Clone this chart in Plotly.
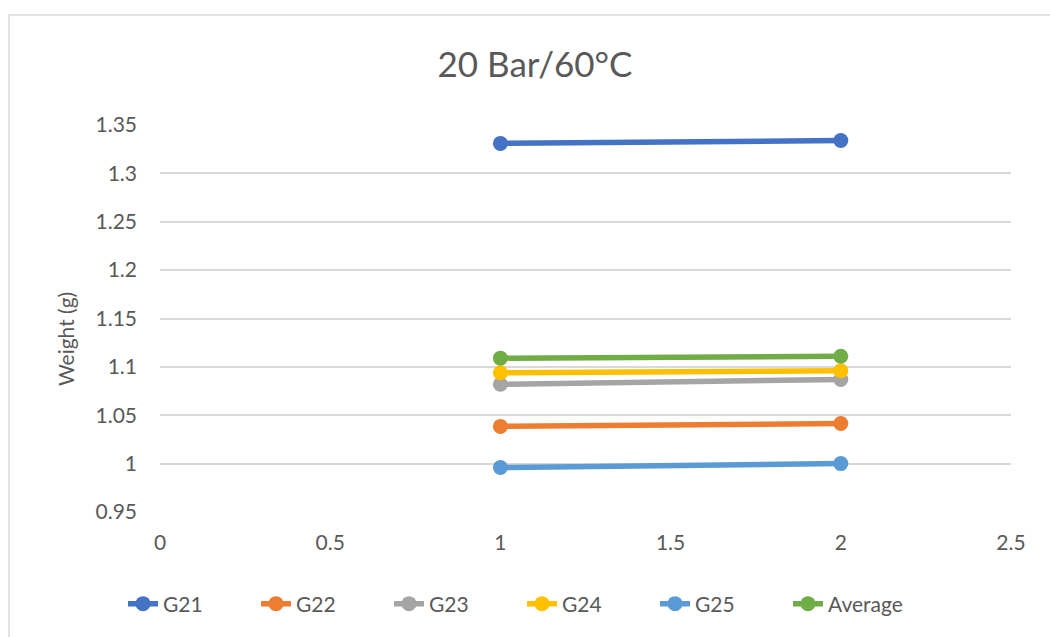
import plotly.graph_objects as go

x_vals = [1, 2]
series_names = ["G21", "G22", "G23", "G24", "G25", "Average"]
g21 = [1.331, 1.334]
g22 = [1.0385, 1.0415]
g23 = [1.082, 1.087]
g24 = [1.094, 1.096]
g25 = [0.996, 1.0]
average = [1.109, 1.111]
series_values = [g21, g22, g23, g24, g25, average]
colors = ["#4472C4", "#ED7D31", "#A5A5A5", "#FFC000", "#5B9BD5", "#70AD47"]
x_ticks = [0, 0.5, 1, 1.5, 2, 2.5]
y_ticks = [0.95, 1, 1.05, 1.1, 1.15, 1.2, 1.25, 1.3, 1.35]

FONT = "Lato"
TXT = "#595959"

W, H = 1050, 637
L, R, T, B = 160, 39, 125, 125
pw, ph = W - L - R, H - T - B

def px_x(px):
    return (px - L) / pw

def px_y(py):
    return (H - B - py) / ph

fig = go.Figure()
for name, vals, col in zip(series_names, series_values, colors):
    fig.add_trace(go.Scatter(
        x=x_vals, y=vals, name=name, mode="lines+markers",
        line=dict(color=col, width=5.5),
        marker=dict(color=col, size=15),
    ))

fig.update_layout(
    width=W, height=H,
    margin=dict(l=L, r=R, t=T, b=B),
    paper_bgcolor="white", plot_bgcolor="white",
    font=dict(family=FONT, color=TXT, size=21),
    title=dict(text="20 Bar/60°C", x=535 / W, xref="container", xanchor="center",
               y=1 - 65 / H, yref="container", yanchor="middle",
               font=dict(size=35, color=TXT, family=FONT)),
    xaxis=dict(range=[0, 2.5], tickvals=x_ticks, ticktext=[f"{v:g}" for v in x_ticks],
               showgrid=False, zeroline=False, showline=False,
               ticklabelstandoff=16, tickfont=dict(size=21, color=TXT)),
    yaxis=dict(range=[0.95, 1.35], tickvals=y_ticks, ticktext=[f"{v:g}" for v in y_ticks],
               showgrid=True, gridcolor="#D9D9D9", gridwidth=1.6, zeroline=False, showline=False,
               ticklabelstandoff=22, tickfont=dict(size=21, color=TXT)),
    showlegend=True,
    legend=dict(orientation="h", x=px_x(123), xanchor="left", y=px_y(604), yanchor="middle",
                font=dict(size=21, color=TXT), entrywidth=88, bgcolor="rgba(0,0,0,0)"),
    annotations=[dict(text="Weight (g)", textangle=-90, x=px_x(65), y=px_y(339),
                      xref="paper", yref="paper", xanchor="center", yanchor="middle",
                      showarrow=False,
                      font=dict(size=21, color=TXT, family=FONT))],
    shapes=[dict(type="rect", xref="paper", yref="paper",
                 x0=px_x(9), x1=px_x(1070), y0=px_y(650), y1=px_y(15),
                 line=dict(color="#D9D9D9", width=1.5), fillcolor="rgba(0,0,0,0)", layer="below")],
)

fig.write_html("out.html")
